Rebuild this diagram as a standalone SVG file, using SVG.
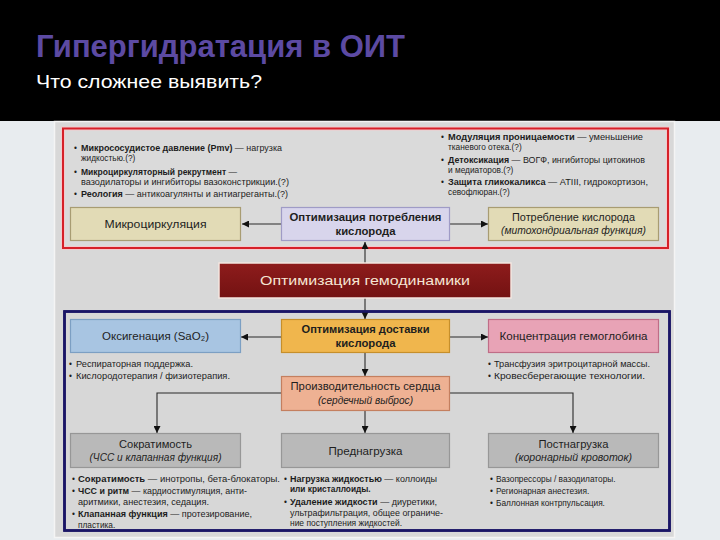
<svg xmlns="http://www.w3.org/2000/svg" width="720" height="540" viewBox="0 0 720 540">
<defs>
<style>
text{font-family:"Liberation Sans",Arial,sans-serif;}
.t{font-size:8.3px;fill:#1c1c1c;}
.bl{font-size:8.3px;fill:#1c1c1c;}
.b{font-weight:bold;}
.lbl{font-size:11.5px;fill:#1e1e1e;text-anchor:middle;}
.it{font-size:10px;font-style:italic;fill:#1e1e1e;text-anchor:middle;}
.box{stroke-width:1.2;}
.con{fill:none;stroke:#2a2a2a;stroke-width:1.1;}
</style>
<marker id="ah" viewBox="0 0 10 10" refX="10" refY="5" markerWidth="8" markerHeight="7" markerUnits="userSpaceOnUse" orient="auto">
<path d="M0,0 L10,5 L0,10 z" fill="#111"/>
</marker>
<linearGradient id="dr" x1="0" y1="0" x2="0" y2="1">
<stop offset="0" stop-color="#8e1c1c"/>
<stop offset="1" stop-color="#731212"/>
</linearGradient>
</defs>

<!-- slide background -->
<rect x="0" y="0" width="720" height="121" fill="#000"/>
<rect x="0" y="121" width="720" height="419" fill="#e8ecef"/>
<text x="36" y="57" font-size="32" font-weight="bold" fill="#5c4aa3" textLength="369" lengthAdjust="spacingAndGlyphs">Гипергидратация в ОИТ</text>
<text x="36" y="88" font-size="19" fill="#ffffff" textLength="226" lengthAdjust="spacingAndGlyphs">Что сложнее выявить?</text>

<!-- picture background -->
<rect x="54.5" y="121.5" width="620" height="416" fill="#d8d8d8" stroke="#f4f4f4" stroke-width="1.5"/>

<!-- red section -->
<g id="red-section">
<rect x="63" y="128.5" width="605" height="119.5" fill="#dadada" stroke="#f2c9cc" stroke-width="4"/>
<rect x="63" y="128.5" width="605" height="119.5" fill="none" stroke="#d62028" stroke-width="2"/>
</g>

<!-- blue section -->
<g id="blue-section">
<rect x="64.5" y="311.5" width="605" height="219" fill="#d7d7d7" stroke="#1a1566" stroke-width="2.5"/>
</g>

<!-- connectors -->
<g id="connectors">
<path class="con" d="M282,224 H242" marker-end="url(#ah)"/>
<path class="con" d="M450,224 H488" marker-end="url(#ah)"/>
<path class="con" d="M365,263 V242" marker-end="url(#ah)"/>
<path class="con" d="M365,298 V319" marker-end="url(#ah)"/>
<path class="con" d="M282,337 H241" marker-end="url(#ah)"/>
<path class="con" d="M450,337 H488" marker-end="url(#ah)"/>
<path class="con" d="M365,353 V376" marker-end="url(#ah)"/>
<path class="con" d="M365,411 V433" marker-end="url(#ah)"/>
<path class="con" d="M281,393 H157 V433" marker-end="url(#ah)"/>
<path class="con" d="M449,393 H573 V433" marker-end="url(#ah)"/>
</g>

<!-- red bullets left -->
<g id="red-notes-left">
<text class="bl" x="74" y="151">•</text>
<text class="t" x="81" y="151" textLength="201" lengthAdjust="spacingAndGlyphs"><tspan class="b">Микрососудистое давление (Pmv)</tspan> — нагрузка</text>
<text class="t" x="81" y="161">жидкостью.(?)</text>
<text class="bl" x="74" y="175">•</text>
<text class="t" x="81" y="175" textLength="156" lengthAdjust="spacingAndGlyphs"><tspan class="b">Микроциркуляторный рекрутмент</tspan> —</text>
<text class="t" x="81" y="185" textLength="208" lengthAdjust="spacingAndGlyphs">вазодилаторы и ингибиторы вазоконстрикции.(?)</text>
<text class="bl" x="74" y="197">•</text>
<text class="t" x="81" y="197" textLength="207" lengthAdjust="spacingAndGlyphs"><tspan class="b">Реология</tspan> — антикоагулянты и антиагреганты.(?)</text>
</g>

<!-- red bullets right -->
<g id="red-notes-right">
<text class="bl" x="441" y="140">•</text>
<text class="t" x="448" y="140" textLength="195" lengthAdjust="spacingAndGlyphs"><tspan class="b">Модуляция проницаемости</tspan> — уменьшение</text>
<text class="t" x="448" y="150">тканевого отека.(?)</text>
<text class="bl" x="441" y="163">•</text>
<text class="t" x="448" y="163" textLength="197" lengthAdjust="spacingAndGlyphs"><tspan class="b">Детоксикация</tspan> — ВОГФ, ингибиторы цитокинов</text>
<text class="t" x="448" y="173">и медиаторов.(?)</text>
<text class="bl" x="441" y="185">•</text>
<text class="t" x="448" y="185" textLength="200" lengthAdjust="spacingAndGlyphs"><tspan class="b">Защита гликокаликса</tspan> — ATIII, гидрокортизон,</text>
<text class="t" x="448" y="195">севофлюран.(?)</text>
</g>

<!-- red section nodes -->
<g id="microcirculation">
<rect class="box" x="70.5" y="207.5" width="170" height="33" fill="#e2dbb6" stroke="#a89c72"/>
<text class="lbl" x="155.5" y="228" textLength="102" lengthAdjust="spacingAndGlyphs">Микроциркуляция</text>
</g>
<g id="opt-consumption">
<rect class="box" x="281.5" y="207.5" width="168" height="33" fill="#d8d5ec" stroke="#9f9bc6"/>
<text class="lbl b" x="365.5" y="221" textLength="152" lengthAdjust="spacingAndGlyphs">Оптимизация потребления</text>
<text class="lbl b" x="365.5" y="235" textLength="60" lengthAdjust="spacingAndGlyphs">кислорода</text>
</g>
<g id="o2-consumption">
<rect class="box" x="488.5" y="207.5" width="170" height="33" fill="#e2dbb6" stroke="#a89c72"/>
<text class="lbl" x="573.5" y="221" textLength="123" lengthAdjust="spacingAndGlyphs">Потребление кислорода</text>
<text class="it" x="573.5" y="234" textLength="145" lengthAdjust="spacingAndGlyphs">(митохондриальная функция)</text>
</g>

<!-- central node -->
<g id="opt-hemodynamics">
<rect x="219" y="263" width="292" height="35" fill="url(#dr)" stroke="#f3e6e0" stroke-width="1.5"/>
<text x="365" y="285" font-size="13.5" fill="#f6e6d4" text-anchor="middle" textLength="210" lengthAdjust="spacingAndGlyphs">Оптимизация гемодинамики</text>
</g>

<!-- blue section nodes -->
<g id="oxygenation">
<rect class="box" x="70.5" y="319.5" width="170" height="33" fill="#a8c5e2" stroke="#7c9fc3"/>
<text class="lbl" x="155.5" y="340">Оксигенация (SaO₂)</text>
</g>
<g id="opt-delivery">
<rect class="box" x="281.5" y="319.5" width="168" height="33" fill="#f0b64d" stroke="#c68f2b"/>
<text class="lbl b" x="365.5" y="333" textLength="128" lengthAdjust="spacingAndGlyphs">Оптимизация доставки</text>
<text class="lbl b" x="365.5" y="347" textLength="60" lengthAdjust="spacingAndGlyphs">кислорода</text>
</g>
<g id="hemoglobin">
<rect class="box" x="488.5" y="319.5" width="170" height="33" fill="#e8a3b6" stroke="#bf6d87"/>
<text class="lbl" x="573.5" y="340" textLength="148" lengthAdjust="spacingAndGlyphs">Концентрация гемоглобина</text>
</g>

<g id="oxygenation-notes">
<text class="bl" x="69" y="367">•</text>
<text class="t" x="76" y="367" textLength="117" lengthAdjust="spacingAndGlyphs">Респираторная поддержка.</text>
<text class="bl" x="69" y="379">•</text>
<text class="t" x="76" y="379" textLength="154" lengthAdjust="spacingAndGlyphs">Кислородотерапия / физиотерапия.</text>
</g>
<g id="hemoglobin-notes">
<text class="bl" x="488" y="367">•</text>
<text class="t" x="494" y="367" textLength="156" lengthAdjust="spacingAndGlyphs">Трансфузия эритроцитарной массы.</text>
<text class="bl" x="488" y="379">•</text>
<text class="t" x="494" y="379" textLength="151" lengthAdjust="spacingAndGlyphs">Кровесберегающие технологии.</text>
</g>

<g id="cardiac-output">
<rect class="box" x="281.5" y="376.5" width="168" height="34" fill="#eeb193" stroke="#c47f5f"/>
<text class="lbl" x="365.5" y="390" textLength="150" lengthAdjust="spacingAndGlyphs">Производительность сердца</text>
<text class="it" x="365.5" y="404" textLength="95" lengthAdjust="spacingAndGlyphs">(сердечный выброс)</text>
</g>

<g id="contractility">
<rect class="box" x="70.5" y="433.5" width="170" height="34" fill="#b9b9b9" stroke="#979797"/>
<text class="lbl" x="155.5" y="448" textLength="73" lengthAdjust="spacingAndGlyphs">Сократимость</text>
<text class="it" x="155.5" y="461" textLength="132" lengthAdjust="spacingAndGlyphs">(ЧСС и клапанная функция)</text>
</g>
<g id="preload">
<rect class="box" x="281.5" y="433.5" width="168" height="34" fill="#b9b9b9" stroke="#979797"/>
<text class="lbl" x="365.5" y="455" textLength="74" lengthAdjust="spacingAndGlyphs">Преднагрузка</text>
</g>
<g id="afterload">
<rect class="box" x="488.5" y="433.5" width="170" height="34" fill="#b9b9b9" stroke="#979797"/>
<text class="lbl" x="573.5" y="448" textLength="70" lengthAdjust="spacingAndGlyphs">Постнагрузка</text>
<text class="it" x="573.5" y="461" textLength="117" lengthAdjust="spacingAndGlyphs">(коронарный кровоток)</text>
</g>

<g id="contractility-notes">
<text class="bl" x="72" y="482">•</text>
<text class="t" x="78" y="482" textLength="202" lengthAdjust="spacingAndGlyphs"><tspan class="b">Сократимость</tspan> — инотропы, бета-блокаторы.</text>
<text class="bl" x="72" y="494">•</text>
<text class="t" x="78" y="494" textLength="169" lengthAdjust="spacingAndGlyphs"><tspan class="b">ЧСС и ритм</tspan> — кардиостимуляция, анти-</text>
<text class="t" x="78" y="505" textLength="131" lengthAdjust="spacingAndGlyphs">аритмики, анестезия, седация.</text>
<text class="bl" x="72" y="517">•</text>
<text class="t" x="78" y="517" textLength="174" lengthAdjust="spacingAndGlyphs"><tspan class="b">Клапанная функция</tspan> — протезирование,</text>
<text class="t" x="78" y="528">пластика.</text>
</g>
<g id="preload-notes">
<text class="bl" x="284" y="482">•</text>
<text class="t" x="290" y="482" textLength="147" lengthAdjust="spacingAndGlyphs"><tspan class="b">Нагрузка жидкостью</tspan> — коллоиды</text>
<text class="t b" x="290" y="492">или кристаллоиды.</text>
<text class="bl" x="284" y="505">•</text>
<text class="t" x="290" y="505" textLength="147" lengthAdjust="spacingAndGlyphs"><tspan class="b">Удаление жидкости</tspan> — диуретики,</text>
<text class="t" x="290" y="516" textLength="153" lengthAdjust="spacingAndGlyphs">ультрафильтрация, общее ограниче-</text>
<text class="t" x="290" y="526" textLength="112" lengthAdjust="spacingAndGlyphs">ние поступления жидкостей.</text>
</g>
<g id="afterload-notes">
<text class="bl" x="490" y="482">•</text>
<text class="t" x="496" y="482">Вазопрессоры / вазодилаторы.</text>
<text class="bl" x="490" y="494">•</text>
<text class="t" x="496" y="494">Регионарная анестезия.</text>
<text class="bl" x="490" y="506">•</text>
<text class="t" x="496" y="506">Баллонная контрпульсация.</text>
</g>

<!-- blue border on top -->
<rect x="64.5" y="311.5" width="605" height="219" fill="none" stroke="#1a1566" stroke-width="2.5"/>
</svg>
